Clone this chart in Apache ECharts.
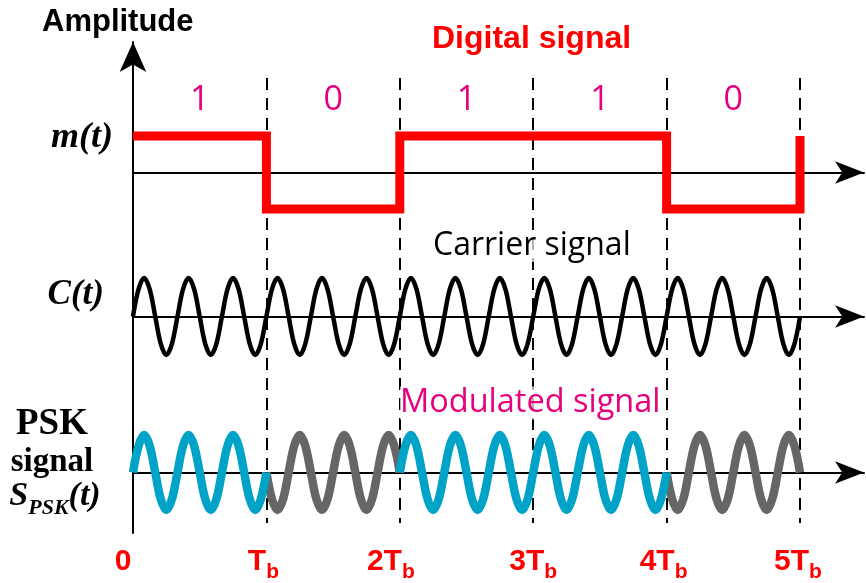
<!DOCTYPE html>
<html>
<head>
<meta charset="utf-8">
<script src="https://cdn.jsdelivr.net/npm/echarts@6/dist/echarts.min.js"></script>
<style>
html,body{margin:0;padding:0;background:#fff;}
#chart{width:866px;height:583px;}
</style>
</head>
<body>
<div id="chart"></div>
<script>
// ---------------- data ----------------
const bits = [1, 0, 1, 1, 0];
const bitLabels = ['1', '0', '1', '1', '0'];
// digital signal levels at 0, Tb, 2Tb, 3Tb, 4Tb and the final edge at 5Tb
const digitalValues = [1, -1, 1, 1, -1, 1];
// one period of the carrier, sampled every 1/8 period
const carrierCycle = [0, 0.71, 1, 0.71, 0, -0.71, -1, -0.71];
const cyclesPerBit = 3;
// time tick labels (main part + subscript)
const tickMain = ['0', 'T', '2T', '3T', '4T', '5T'];
const tickSub = ['', 'b', 'b', 'b', 'b', 'b'];

// ---------------- layout (pixels) ----------------
const X0 = 133, X5 = 800, AXIS_END = 864, W = 866, H = 583;
const xMaxExt = bits.length * (AXIS_END - X0) / (X5 - X0);
// horizontal nudges of the time labels (px, negative = left)
const tickShift = [10, 3, 9, 0, 3, 2];

// ---------------- build series data ----------------
const perBit = cyclesPerBit * carrierCycle.length;
const nPts = bits.length * perBit;
const carrier = [];
const pskOne = [], pskZero = [];
for (let i = 0; i <= nPts; i++) {
  const x = i / perBit;
  const c = carrierCycle[i % carrierCycle.length];
  carrier.push([x, c]);
  const left = i > 0 ? bits[Math.floor((i - 1) / perBit)] : null;
  const right = i < nPts ? bits[Math.floor(i / perBit)] : null;
  pskOne.push([x, (left === 1 || right === 1) ? c : '-']);
  pskZero.push([x, (left === 0 || right === 0) ? -c : '-']);
}
const digital = digitalValues.map((v, i) => [i, v]);

const RED = '#ff0000', PINK = '#e6007e', CYAN = '#00a3c8', GRAY = '#666666';
const SANS = '"Liberation Sans", Arial';
const SERIF = '"Liberation Serif", "Times New Roman"';

const hiddenY = (gi, min, max) => ({gridIndex: gi, type: 'value', min, max, show: false});
const arrowX = (gi) => ({
  gridIndex: gi, type: 'value', min: 0, max: xMaxExt,
  axisLine: {show: true, onZero: true, symbol: ['none', 'arrow'], symbolSize: [17, 29],
    lineStyle: {color: '#000', width: 2}},
  axisTick: {show: false}, axisLabel: {show: false}, splitLine: {show: false}
});

const tickRich = {};
tickShift.forEach(function (s, i) {
  tickRich['n' + i] = {color: RED, fontSize: 30, fontWeight: 'bold', fontFamily: SANS,
    padding: [0, i === 0 ? 2 * s : 0, 6, 0], verticalAlign: 'bottom'};
  tickRich['s' + i] = {color: RED, fontSize: 21, fontWeight: 'bold', fontFamily: SANS,
    padding: [0, 2 * s, 0, 0], verticalAlign: 'bottom'};
});

const chart = echarts.init(document.getElementById('chart'), null, {renderer: 'canvas'});
chart.setOption({
  animation: false,
  backgroundColor: '#fff',
  grid: [
    {left: X0, right: W - X5, top: 78, bottom: H - 533},       // 0 dashed lines + time labels
    {left: X0, width: 20, top: 42, bottom: H - 533},           // 1 vertical amplitude axis
    {left: X0, right: W - AXIS_END, top: 136, height: 73},     // 2 m(t)
    {left: X0, right: W - AXIS_END, top: 278, height: 77},     // 3 C(t)
    {left: X0, right: W - AXIS_END, top: 435, height: 75},     // 4 PSK
    {left: X0, right: W - X5, top: 117, height: 5}             // 5 bit labels
  ],
  xAxis: [
    {
      gridIndex: 0, type: 'value', min: 0, max: bits.length, interval: 1, z: 3,
      axisLine: {show: false, onZero: false}, axisTick: {show: false},
      splitLine: {show: true, lineStyle: {color: '#000', width: 2, type: [12, 8]}},
      axisLabel: {
        margin: 24,
        formatter: function (v) {
          const i = Math.round(v);
          if (i === 0) return '{n0|' + tickMain[0] + '}';
          return '{n' + i + '|' + tickMain[i] + '}{s' + i + '|' + tickSub[i] + '}';
        },
        rich: tickRich
      }
    },
    {gridIndex: 1, type: 'value', min: 0, max: 1, show: false},
    arrowX(2), arrowX(3), arrowX(4),
    {
      gridIndex: 5, type: 'category', data: bitLabels, position: 'top', boundaryGap: true,
      axisLine: {show: false}, axisTick: {show: false}, splitLine: {show: false},
      axisLabel: {color: PINK, fontSize: 34, fontFamily: '"Open Sans"', margin: 0}
    }
  ],
  yAxis: [
    hiddenY(0, 0, 1),
    {
      gridIndex: 1, type: 'value', min: 0, max: 1,
      axisLine: {show: true, onZero: false, symbol: ['none', 'arrow'], symbolSize: [20, 30],
        lineStyle: {color: '#000', width: 2}},
      axisTick: {show: false}, axisLabel: {show: false}, splitLine: {show: false}
    },
    hiddenY(2, -1, 1), hiddenY(3, -1, 1), hiddenY(4, -1, 1), hiddenY(5, 0, 1)
  ],
  series: [
    {
      name: 'Digital signal', type: 'line', xAxisIndex: 2, yAxisIndex: 2, data: digital,
      step: 'end', showSymbol: false, clip: false,
      lineStyle: {color: RED, width: 9, cap: 'butt', join: 'miter'}
    },
    {
      name: 'Carrier signal', type: 'line', xAxisIndex: 3, yAxisIndex: 3, data: carrier,
      smooth: 0.35, showSymbol: false, clip: false,
      lineStyle: {color: '#000', width: 4.5}
    },
    {
      name: 'PSK bit 0', type: 'line', xAxisIndex: 4, yAxisIndex: 4, data: pskZero,
      smooth: 0.35, showSymbol: false, clip: false, connectNulls: false,
      lineStyle: {color: GRAY, width: 8.5}
    },
    {
      name: 'PSK bit 1', type: 'line', xAxisIndex: 4, yAxisIndex: 4, data: pskOne,
      smooth: 0.35, showSymbol: false, clip: false, connectNulls: false,
      lineStyle: {color: CYAN, width: 8.5}
    }
  ],
  graphic: [
    {type: 'text', z: 10, style: {x: 42, y: 22.5, text: 'Amplitude', fill: '#000',
      font: 'bold 31px ' + SANS, align: 'left', verticalAlign: 'middle'}},
    {type: 'text', z: 10, style: {x: 432, y: 39.5, text: 'Digital signal', fill: RED,
      font: 'bold 32px ' + SANS, align: 'left', verticalAlign: 'middle'}},
    {type: 'text', z: 10, style: {x: 433, y: 246, text: 'Carrier signal', fill: '#000',
      font: '32px "Open Sans"', align: 'left', verticalAlign: 'middle',
      backgroundColor: 'rgba(255,255,255,0.7)'}},
    {type: 'text', z: 10, style: {x: 400, y: 403, text: 'Modulated signal', fill: PINK,
      font: '32.5px "Open Sans"', align: 'left', verticalAlign: 'middle',
      backgroundColor: 'rgba(255,255,255,0.7)'}},
    {type: 'text', z: 10, style: {x: 113, y: 138, text: 'm(t)', fill: '#000',
      font: 'italic bold 36px ' + SERIF, align: 'right', verticalAlign: 'middle'}},
    {type: 'text', z: 10, style: {x: 104, y: 295, text: 'C(t)', fill: '#000',
      font: 'italic bold 35px ' + SERIF, align: 'right', verticalAlign: 'middle'}},
    {type: 'text', z: 10, style: {x: 52, y: 424, text: 'PSK', fill: '#000',
      font: 'bold 37px ' + SERIF, align: 'center', verticalAlign: 'middle'}},
    {type: 'text', z: 10, style: {x: 52, y: 462, text: 'signal', fill: '#000',
      font: 'bold 33px ' + SERIF, align: 'center', verticalAlign: 'middle'}},
    {type: 'text', z: 10, style: {x: 55, y: 519, text: '{S|S}{p|PSK}{S|(t)}', align: 'center', verticalAlign: 'bottom',
      rich: {
        S: {fill: '#000', fontSize: 34, fontStyle: 'italic', fontWeight: 'bold',
            fontFamily: SERIF, padding: [0, 0, 6, 0], verticalAlign: 'bottom'},
        p: {fill: '#000', fontSize: 22, fontStyle: 'italic', fontWeight: 'bold',
            fontFamily: SERIF, verticalAlign: 'bottom'}
      }}}
  ]
});
</script>
</body>
</html>
